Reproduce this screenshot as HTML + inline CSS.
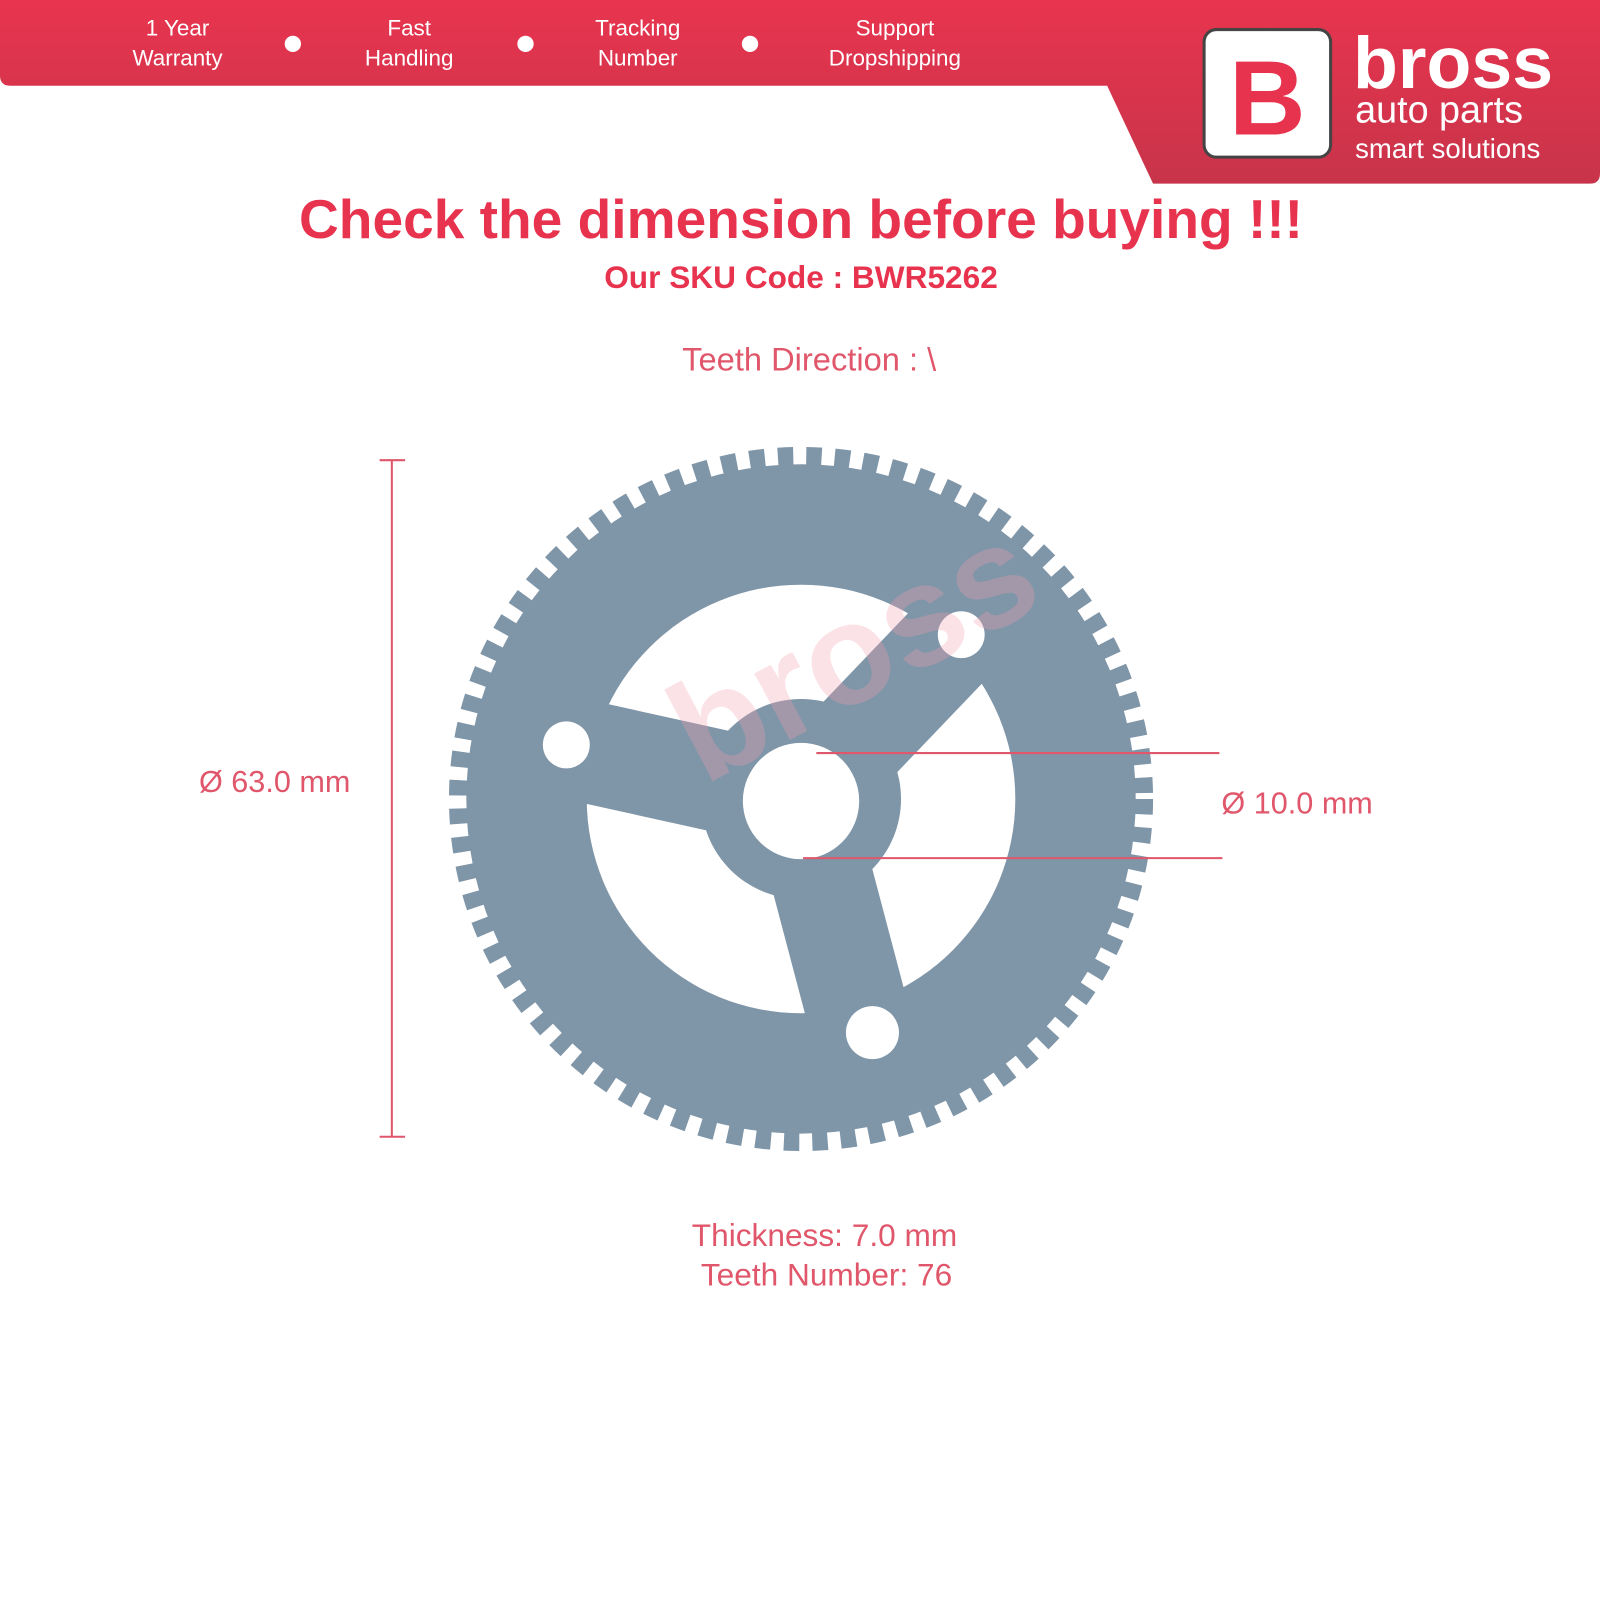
<!DOCTYPE html>
<html><head><style>html,body{margin:0;padding:0;background:#fff;width:1600px;height:1600px;overflow:hidden}</style></head>
<body>
<svg width="1600" height="1600" viewBox="0 0 1568 1568" xmlns="http://www.w3.org/2000/svg" font-family="Liberation Sans, sans-serif">
<defs>
<linearGradient id="rg" x1="0" y1="0" x2="0" y2="1"><stop offset="0" stop-color="#e8344f"/><stop offset="1" stop-color="#c8344a"/></linearGradient>
</defs>
<path d="M0 0 H1568 V170 Q1568 180 1558 180 H1130 L1085 84 H10 Q0 84 0 74 Z" fill="url(#rg)"/>
<g fill="#fff" font-size="22" text-anchor="middle">
<text x="174" y="35">1 Year</text><text x="174" y="64">Warranty</text>
<text x="401" y="35">Fast</text><text x="401" y="64">Handling</text>
<text x="625" y="35">Tracking</text><text x="625" y="64">Number</text>
<text x="877" y="35">Support</text><text x="877" y="64">Dropshipping</text>
<circle cx="287" cy="43" r="8"/><circle cx="515" cy="43" r="8"/><circle cx="735" cy="43" r="8"/>
</g>
<rect x="1180" y="29" width="124" height="125" rx="12" fill="#fff" stroke="#444" stroke-width="3"/>
<text x="1242" y="132" text-anchor="middle" font-size="104" font-weight="bold" fill="#e8334f">B</text>
<text x="1326" y="86" font-size="72" font-weight="bold" fill="#fff">bross</text>
<text x="1328" y="120" font-size="37" fill="#fff">auto parts</text>
<text x="1328" y="155" font-size="27" fill="#fff">smart solutions</text>
<text x="785" y="233" text-anchor="middle" font-size="54" font-weight="bold" fill="#e8334f">Check the dimension before buying !!!</text>
<text x="785" y="282" text-anchor="middle" font-size="31" font-weight="bold" fill="#e8334f">Our SKU Code : BWR5262</text>
<text x="793" y="363" text-anchor="middle" font-size="32" fill="#e0566a">Teeth Direction : \</text>
<!-- gear -->
<g>
<circle cx="785" cy="783" r="334" fill="none" stroke="#7f95a8" stroke-width="22" stroke-dasharray="15 12.7"/>
<circle cx="785" cy="783" r="328" fill="#7f95a8"/>
<circle cx="785" cy="783" r="210" fill="#fff"/>
<g stroke="#7f95a8" stroke-width="100">
<line x1="785" y1="783" x2="545" y2="730"/>
<line x1="785" y1="783" x2="960" y2="600"/>
<line x1="785" y1="783" x2="845" y2="1010"/>
</g>
<circle cx="785" cy="783" r="98" fill="#7f95a8"/>
<circle cx="785" cy="785" r="57" fill="#fff"/>
<circle cx="555" cy="730" r="23" fill="#fff"/>
<circle cx="942" cy="622" r="23" fill="#fff"/>
<circle cx="855" cy="1012" r="26" fill="#fff"/>
</g>
<text x="690" y="770" font-size="140" font-weight="bold" fill="#f4a0b0" opacity="0.3" transform="rotate(-28 690 770)">bross</text>
<g stroke="#e0566a" stroke-width="2">
<line x1="384" y1="451" x2="384" y2="1114"/><line x1="372" y1="451" x2="397" y2="451"/><line x1="372" y1="1114" x2="397" y2="1114"/>
<line x1="800" y1="738" x2="1195" y2="738"/><line x1="787" y1="841" x2="1198" y2="841"/>
</g>
<g font-size="30" fill="#e0566a">
<text x="195" y="776">Ø 63.0 mm</text>
<text x="1197" y="797">Ø 10.0 mm</text>
<text x="808" y="1221" text-anchor="middle" font-size="31">Thickness: 7.0 mm</text>
<text x="810" y="1260" text-anchor="middle" font-size="31">Teeth Number: 76</text>
</g>
</svg>
</body></html>
